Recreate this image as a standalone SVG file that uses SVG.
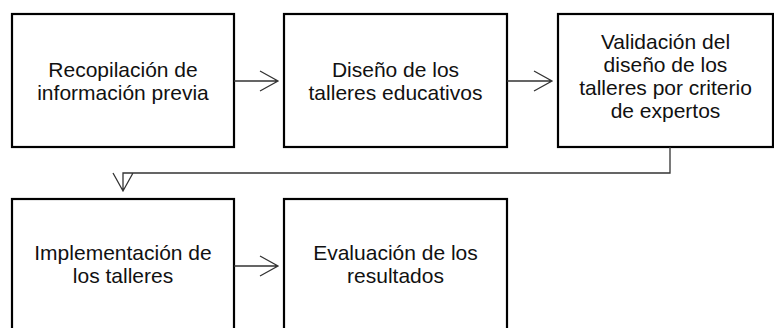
<svg xmlns="http://www.w3.org/2000/svg" width="774" height="328" viewBox="0 0 774 328">
<style>
.box{fill:#fff;stroke:#000;stroke-width:2.2}
.t{font-family:"Liberation Sans",Arial,sans-serif;font-size:21px;fill:#111;text-anchor:middle}
.c{fill:none;stroke:#333;stroke-width:1.3}
</style>
<rect width="774" height="328" fill="#fff"/>
<g id="n1"><rect class="box" x="12" y="14" width="222" height="133"/>
<text class="t" x="123" y="77">Recopilación de</text><text class="t" x="123" y="100">información previa</text></g>
<g id="n2"><rect class="box" x="284" y="14" width="223" height="133"/>
<text class="t" x="395.5" y="77">Diseño de los</text><text class="t" x="395.5" y="100">talleres educativos</text></g>
<g id="n3"><rect class="box" x="558" y="14" width="215" height="133"/>
<text class="t" x="665.5" y="49">Validación del</text><text class="t" x="665.5" y="72">diseño de los</text><text class="t" x="665.5" y="95">talleres por criterio</text><text class="t" x="665.5" y="118">de expertos</text></g>
<g id="n4"><rect class="box" x="12" y="199" width="222" height="140"/>
<text class="t" x="123" y="260">Implementación de</text><text class="t" x="123" y="283">los talleres</text></g>
<g id="n5"><rect class="box" x="284" y="199" width="223" height="140"/>
<text class="t" x="395.5" y="260">Evaluación de los</text><text class="t" x="395.5" y="283">resultados</text></g>
<g id="connectors">
<path class="c" d="M234 81H278M260 71L278 81L260 91"/>
<path class="c" d="M507 81H552M534 71L552 81L534 91"/>
<path class="c" d="M670 147V173H123V191M113 173L123 191L133 173"/>
<path class="c" d="M234 266H278M260 256L278 266L260 276"/>
</g>
</svg>
